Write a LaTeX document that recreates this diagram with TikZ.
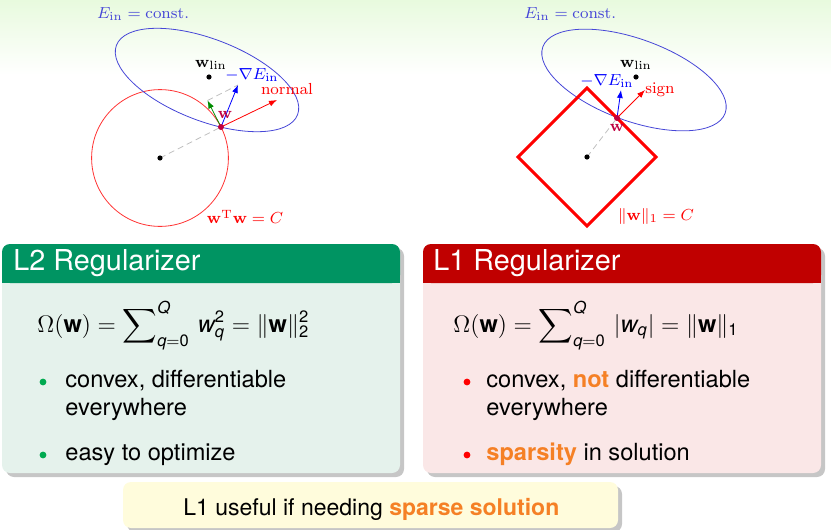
\documentclass[tikz,border=0pt]{standalone}
\usepackage{amsmath}
\usepackage[no-math]{fontspec}
\setmainfont{TeX Gyre Heros}
\usetikzlibrary{arrows.meta,shadows}
\definecolor{l2green}{RGB}{0,148,98}
\definecolor{l2back}{RGB}{229,242,236}
\definecolor{l1red}{RGB}{192,0,0}
\definecolor{l1back}{RGB}{250,231,231}
\definecolor{notebg}{RGB}{255,252,220}
\definecolor{hilite}{RGB}{245,128,37}
\definecolor{ellblue}{RGB}{70,70,215}
\definecolor{bggreen}{RGB}{232,250,222}
\definecolor{bulgreen}{RGB}{0,170,80}
\newcommand{\vw}{\mbox{\bfseries w}}
\newcommand{\iw}{\mbox{\itshape w}}
\newcommand{\iq}{\text{\itshape q}}
\newcommand{\hilit}[1]{\textcolor{hilite}{\bfseries #1}}
\tikzset{
  boxshadow/.style={drop shadow={shadow xshift=2pt,shadow yshift=-2pt,opacity=.45}},
  headtext/.style={anchor=base west,inner sep=0pt,text=white,font=\fontsize{14.4}{17}\selectfont},
  bodytext/.style={anchor=base west,inner sep=0pt,font=\fontsize{11.8}{14}\selectfont},
  lbl/.style={inner sep=0pt,font=\fontsize{8.2}{9.8}\selectfont},
  dot/.style={circle,fill,inner sep=0pt,minimum size=2.6pt},
  bul/.style={circle,fill,inner sep=0pt,minimum size=3.4pt},
}
\begin{document}
\begin{tikzpicture}[x=.5pt,y=-.5pt,>={Latex[length=4pt,width=3pt]}]
\useasboundingbox (0,0) rectangle (831,530);
\shade[top color=bggreen,bottom color=white] (0,0) rectangle (831,75);

% L2: circle constraint
\coordinate (c2) at (160,158);
\coordinate (w2) at (221,127);
\coordinate (lin2) at (209,77);
\coordinate (gr2) at (238,85);
\coordinate (tg2) at (207.5,100.5);
\coordinate (nm2) at (277,100);
\draw[red!80] (c2) circle[radius=68.4];
\draw[ellblue,rotate around={-21:(207,80)}] (207,80) ellipse[x radius=97,y radius=41];
\draw[gray!50,densely dashed] (c2)--(w2) (tg2)--(gr2);
\draw[->,green!55!black] (w2)--(tg2);
\draw[->,blue] (w2)--(gr2);
\draw[->,red] (w2)--(nm2);
\node[dot] (o2) at (c2) {};
\node[dot] (p2) at (lin2) {};
\node[dot,fill=purple,minimum size=3pt] (x2) at (w2) {};
\node[lbl,text=ellblue] (e2) at (143,14) {$E_{\mathrm{in}}=\mathrm{const.}$};
\node[lbl] (l2) at (211,65) {$\mathbf{w}_{\mathrm{lin}}$};
\node[lbl,text=blue] (g2) at (252,75) {$-\nabla E_{\mathrm{in}}$};
\node[lbl,text=red] (n2) at (287,89) {$\mathrm{normal}$};
\node[lbl,text=purple] (v2) at (225,115) {$\mathbf{w}$};
\node[lbl,text=red] (k2) at (245,217) {$\mathbf{w}^{\mathrm{T}}\mathbf{w}=C$};

% L1: diamond constraint
\coordinate (c1) at (587,157);
\coordinate (w1) at (617,118);
\coordinate (lin1) at (636,77);
\coordinate (gr1) at (621,90);
\coordinate (sg1) at (645,90);
\draw[ellblue,rotate around={-20:(634,80)}] (634,80) ellipse[x radius=97,y radius=41];
\draw[red,line width=1.5pt] (587,88)--(656,157)--(587,226)--(518,157)--cycle;
\draw[gray!50,densely dashed] (c1)--(w1);
\draw[->,blue] (w1)--(gr1);
\draw[->,red] (w1)--(sg1);
\node[dot] (o1) at (c1) {};
\node[dot] (p1) at (lin1) {};
\node[dot,fill=purple,minimum size=3pt] (x1) at (w1) {};
\node[lbl,text=ellblue] (e1) at (570,14) {$E_{\mathrm{in}}=\mathrm{const.}$};
\node[lbl] (l1) at (636,65) {$\mathbf{w}_{\mathrm{lin}}$};
\node[lbl,text=blue] (g1) at (607,81) {$-\nabla E_{\mathrm{in}}$};
\node[lbl,text=red] (s1) at (660,90) {$\mathrm{sign}$};
\node[lbl,text=purple] (v1) at (617,128) {$\mathbf{w}$};
\node[lbl,text=red] (k1) at (656,216) {$\|\mathbf{w}\|_1=C$};

% L2 block
\fill[l2back,rounded corners=4pt,boxshadow] (2,244) rectangle (400,473);
\fill[l2green,rounded corners=4pt] (2,244) rectangle (400,283);
\fill[l2green] (2,270) rectangle (400,283);
\node[headtext] (h2) at (13,270) {L2 Regularizer};
\node[bodytext] (f2) at (37,332) {$\Omega(\vw)=\displaystyle\sum\nolimits_{\iq=\text{0}}^{\text{\itshape Q}}\,\iw_{\iq}^{\text{2}}=\|\vw\|_{\text{2}}^{\text{2}}$};
\node[bul,fill=bulgreen] (b2a) at (43,382) {};
\node[bodytext] (t2a) at (65,387) {convex, differentiable};
\node[bodytext] (t2b) at (65,415) {everywhere};
\node[bul,fill=bulgreen] (b2c) at (43,455) {};
\node[bodytext] (t2c) at (65,460) {easy to optimize};

% L1 block
\fill[l1back,rounded corners=4pt,boxshadow] (423,244) rectangle (821,473);
\fill[l1red,rounded corners=4pt] (423,244) rectangle (821,283);
\fill[l1red] (423,270) rectangle (821,283);
\node[headtext] (h1) at (433,270) {L1 Regularizer};
\node[bodytext] (f1) at (453,332) {$\Omega(\vw)=\displaystyle\sum\nolimits_{\iq=\text{0}}^{\text{\itshape Q}}\,|\iw_{\iq}|=\|\vw\|_{\text{1}}$};
\node[bul,fill=red] (b1a) at (467,382) {};
\node[bodytext] (t1a) at (486,387) {convex, \hilit{not} differentiable};
\node[bodytext] (t1b) at (486,415) {everywhere};
\node[bul,fill=red] (b1c) at (467,455) {};
\node[bodytext] (t1c) at (486,460) {\hilit{sparsity} in solution};

% bottom note
\fill[notebg,rounded corners=4pt,boxshadow] (123,482) rectangle (618,528);
\node[bodytext,font=\fontsize{11.5}{14}\selectfont] (note) at (183,515) {L1 useful if needing \hilit{sparse solution}};
\end{tikzpicture}
\end{document}
